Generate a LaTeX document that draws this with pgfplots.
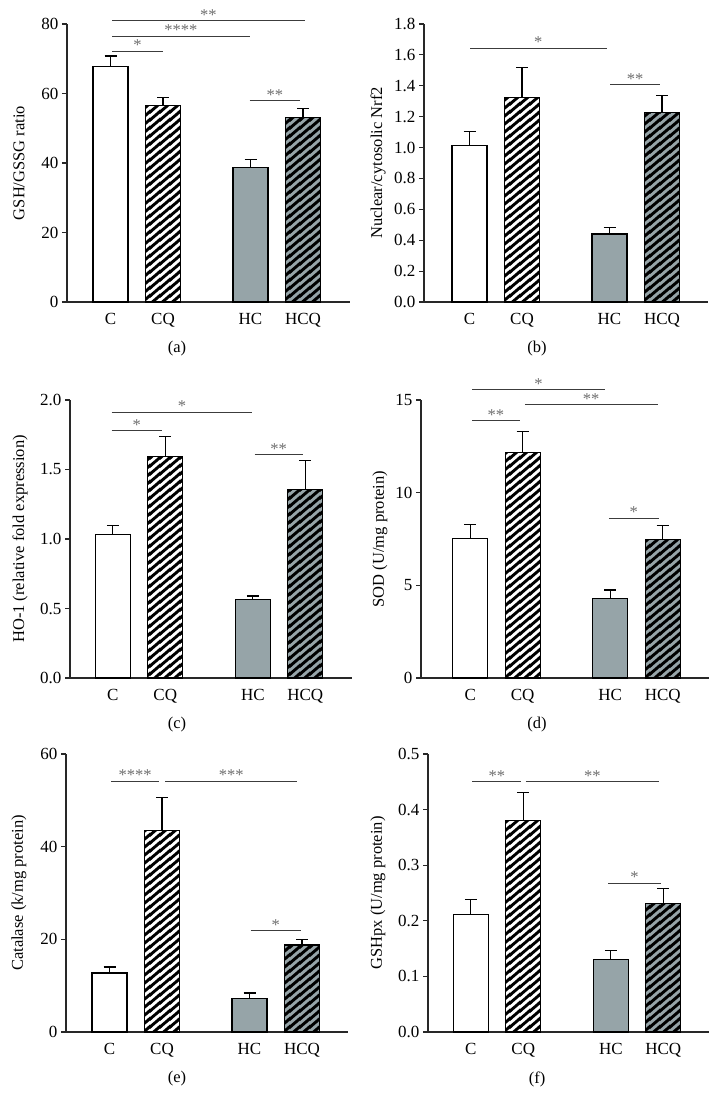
\documentclass[border=0pt]{standalone}
\usepackage{fontspec}
\setmainfont{Liberation Serif}
\usepackage{pgfplots}
\pgfplotsset{compat=1.18}
\usetikzlibrary{patterns}
\pgfdeclarepatternformonly{thickstripes}{\pgfqpoint{0pt}{0pt}}{\pgfqpoint{10pt}{8.4pt}}{\pgfqpoint{10pt}{8.4pt}}{%
  \pgfsetlinewidth{3.1pt}%
  \pgfpathmoveto{\pgfqpoint{-10pt}{-8.4pt}}\pgfpathlineto{\pgfqpoint{20pt}{16.8pt}}%
  \pgfpathmoveto{\pgfqpoint{-10pt}{0pt}}\pgfpathlineto{\pgfqpoint{20pt}{25.2pt}}%
  \pgfpathmoveto{\pgfqpoint{-10pt}{-16.8pt}}\pgfpathlineto{\pgfqpoint{20pt}{8.4pt}}%
  \pgfusepath{stroke}%
}
\definecolor{bargray}{RGB}{150,164,168}
\definecolor{axcol}{RGB}{40,40,40}
\definecolor{sigcol}{RGB}{60,60,60}
\definecolor{starcol}{RGB}{110,110,110}
\newcommand{\fs}{\fontsize{17}{20}\selectfont}
\newcommand{\fl}{\fontsize{16.5}{19}\selectfont}
\pgfplotsset{
  panel/.style={
    scale only axis, height=278pt, anchor=south west, clip=false,
    axis x line*=bottom, axis y line*=left,
    axis line style={axcol, line width=1.1pt},
    xtick={0,1,2.667,3.667}, xticklabels={C,CQ,HC,HCQ},
    xtick style={draw=none},
    ytick style={axcol, line width=1.1pt},
    tick align=outside, major tick length=5pt,
    ymin=0,
    tick label style={font=\fs, text=black},
    xticklabel style={yshift=-3pt},
    label style={font=\fl},
    /pgf/number format/assume math mode=true,
    error bars/y dir=plus, error bars/y explicit,
    error bars/error bar style={line width=1.1pt, black},
    error bars/error mark options={rotate=90, mark size=6pt, line width=1.1pt, black},
  },
  ylab/.style={ylabel style={at={(axis description cs:0,0.5)}, anchor=center, yshift=#1}},
  bbase/.style={ybar, bar width=35pt, bar shift=0pt, draw=black, line width=1.1pt},
  barC/.style={bbase, fill=white},
  barHC/.style={bbase, fill=bargray},
  stripes/.style={bbase, pattern=thickstripes, pattern color=black},
  onedec/.style={yticklabel style={/pgf/number format/.cd, fixed, fixed zerofill, precision=1}},
}
\tikzset{
  sig/.style={sigcol, line width=1pt},
  star/.style={midway, anchor=south, inner sep=0pt, text=starcol, font=\fl},
  plab/.style={font=\fl, anchor=center},
}
\begin{document}
\begin{tikzpicture}[x=1pt,y=1pt]
\path[use as bounding box] (0,0) rectangle (720,1110);

% (a)
\begin{axis}[panel, at={(67pt,808pt)}, width=283pt, xmin=-0.829, xmax=4.562,
  ymax=80, ytick={0,20,40,60,80}, ylabel={GSH/GSSG ratio}, ylab=48pt]
\addplot[barC] coordinates {(0,67.7) +- (0,3.1)};
\addplot[barC] coordinates {(1,56.5)};
\addplot[stripes] coordinates {(1,56.5) +- (0,2.3)};
\addplot[barHC] coordinates {(2.667,38.7) +- (0,2.3)};
\addplot[barHC] coordinates {(3.667,53.2)};
\addplot[stripes] coordinates {(3.667,53.2) +- (0,2.5)};
\draw[sig] (axis cs:0.03,72.2) -- node[star]{*} (axis cs:1.0,72.2);
\draw[sig] (axis cs:0.03,76.5) -- node[star]{****} (axis cs:2.65,76.5);
\draw[sig] (axis cs:0.03,80.9) -- node[star]{**} (axis cs:3.70,80.9);
\draw[sig] (axis cs:2.65,57.9) -- node[star]{**} (axis cs:3.61,57.9);
\end{axis}
\node[plab] at (177,761) {(a)};

% (b)
\begin{axis}[panel, onedec, at={(424pt,808pt)}, width=284pt, xmin=-0.867, xmax=4.543,
  ymax=1.8, ytick={0,0.2,...,1.8}, ylabel={Nuclear/cytosolic Nrf2}, ylab=46pt]
\addplot[barC] coordinates {(0,1.015) +- (0,0.09)};
\addplot[barC] coordinates {(1,1.325)};
\addplot[stripes] coordinates {(1,1.325) +- (0,0.195)};
\addplot[barHC] coordinates {(2.667,0.44) +- (0,0.045)};
\addplot[barHC] coordinates {(3.667,1.225)};
\addplot[stripes] coordinates {(3.667,1.225) +- (0,0.11)};
\draw[sig] (axis cs:0.01,1.643) -- node[star]{*} (axis cs:2.61,1.643);
\draw[sig] (axis cs:2.68,1.405) -- node[star]{**} (axis cs:3.63,1.405);
\end{axis}
\node[plab] at (537,761) {(b)};

% (c)
\begin{axis}[panel, onedec, at={(70pt,432pt)}, width=282pt, xmin=-0.815, xmax=4.556,
  ymax=2.0, ytick={0,0.5,1.0,1.5,2.0}, ylabel={HO-1 (relative fold expression)}, ylab=50pt]
\addplot[barC] coordinates {(0,1.03) +- (0,0.07)};
\addplot[barC] coordinates {(1,1.595)};
\addplot[stripes] coordinates {(1,1.595) +- (0,0.145)};
\addplot[barHC] coordinates {(2.667,0.565) +- (0,0.025)};
\addplot[barHC] coordinates {(3.667,1.355)};
\addplot[stripes] coordinates {(3.667,1.355) +- (0,0.21)};
\draw[sig] (axis cs:-0.02,1.911) -- node[star]{*} (axis cs:2.66,1.911);
\draw[sig] (axis cs:-0.02,1.78) -- node[star]{*} (axis cs:0.93,1.78);
\draw[sig] (axis cs:2.70,1.607) -- node[star]{**} (axis cs:3.62,1.607);
\end{axis}
\node[plab] at (177,385) {(c)};

% (d)
\begin{axis}[panel, at={(421pt,432pt)}, width=288pt, xmin=-0.937, xmax=4.549,
  ymax=15, ytick={0,5,10,15}, ylabel={SOD (U/mg protein)}, ylab=41pt]
\addplot[barC] coordinates {(0,7.55) +- (0,0.72)};
\addplot[barC] coordinates {(1,12.15)};
\addplot[stripes] coordinates {(1,12.15) +- (0,1.13)};
\addplot[barHC] coordinates {(2.667,4.28) +- (0,0.47)};
\addplot[barHC] coordinates {(3.667,7.48)};
\addplot[stripes] coordinates {(3.667,7.48) +- (0,0.77)};
\draw[sig] (axis cs:0.04,15.54) -- node[star]{*} (axis cs:2.56,15.54);
\draw[sig] (axis cs:1.04,14.74) -- node[star]{**} (axis cs:3.57,14.74);
\draw[sig] (axis cs:0.04,13.89) -- node[star]{**} (axis cs:0.94,13.89);
\draw[sig] (axis cs:2.64,8.61) -- node[star]{*} (axis cs:3.59,8.61);
\end{axis}
\node[plab] at (537,385) {(d)};

% (e)
\begin{axis}[panel, at={(66pt,78pt)}, width=282pt, xmin=-0.829, xmax=4.543,
  ymax=60, ytick={0,20,40,60}, ylabel={Catalase (k/mg protein)}, ylab=47pt]
\addplot[barC] coordinates {(0,12.73) +- (0,1.3)};
\addplot[barC] coordinates {(1,43.45)};
\addplot[stripes] coordinates {(1,43.45) +- (0,7.25)};
\addplot[barHC] coordinates {(2.667,7.19) +- (0,1.23)};
\addplot[barHC] coordinates {(3.667,18.78)};
\addplot[stripes] coordinates {(3.667,18.78) +- (0,1.22)};
\draw[sig] (axis cs:0.03,54.1) -- node[star]{****} (axis cs:0.95,54.1);
\draw[sig] (axis cs:1.06,54.1) -- node[star]{***} (axis cs:3.58,54.1);
\draw[sig] (axis cs:2.69,21.87) -- node[star]{*} (axis cs:3.64,21.87);
\end{axis}
\node[plab] at (177,31) {(e)};

% (f)
\begin{axis}[panel, onedec, at={(428pt,78pt)}, width=281pt, xmin=-0.815, xmax=4.537,
  ymax=0.5, ytick={0,0.1,0.2,0.3,0.4,0.5}, ylabel={GSHpx (U/mg protein)}, ylab=50pt]
\addplot[barC] coordinates {(0,0.211) +- (0,0.028)};
\addplot[barC] coordinates {(1,0.381)};
\addplot[stripes] coordinates {(1,0.381) +- (0,0.05)};
\addplot[barHC] coordinates {(2.667,0.1305) +- (0,0.016)};
\addplot[barHC] coordinates {(3.667,0.231)};
\addplot[stripes] coordinates {(3.667,0.231) +- (0,0.027)};
\draw[sig] (axis cs:0.03,0.45) -- node[star]{**} (axis cs:0.96,0.45);
\draw[sig] (axis cs:1.05,0.45) -- node[star]{**} (axis cs:3.58,0.45);
\draw[sig] (axis cs:2.62,0.2677) -- node[star]{*} (axis cs:3.62,0.2677);
\end{axis}
\node[plab] at (537,31) {(f)};
\end{tikzpicture}
\end{document}
